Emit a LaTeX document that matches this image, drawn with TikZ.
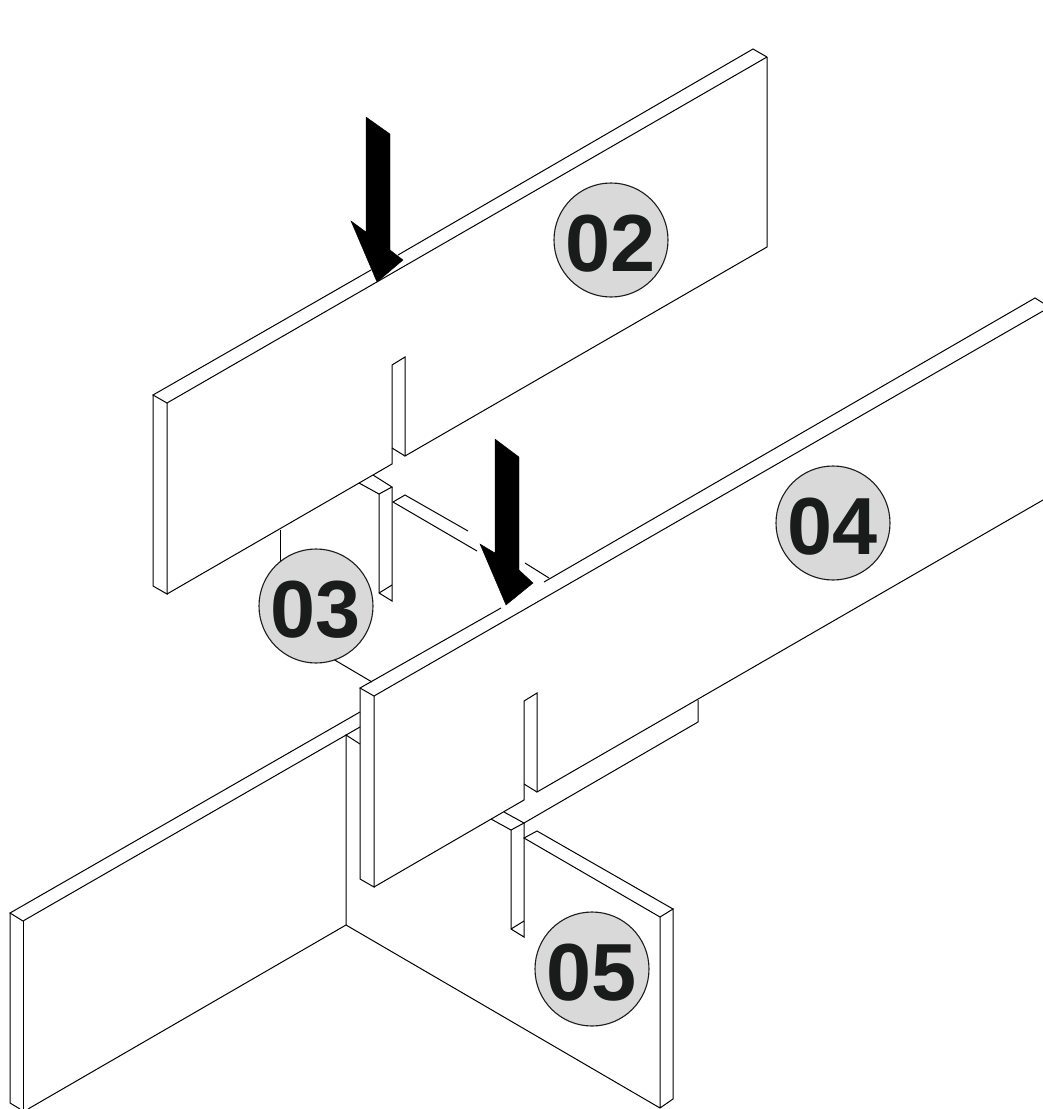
\documentclass[tikz,border=0pt]{standalone}
\usepackage{fontspec}
\setmainfont{Liberation Sans}
\definecolor{badgefill}{HTML}{D9D9D9}
\definecolor{badgeink}{HTML}{1A1C1B}
\newcommand{\badgetext}[1]{\raisebox{0pt}[62pt][0pt]{#1}}
\tikzset{
  edge/.style={draw=black,line width=1pt,line join=miter,line cap=butt},
  pusharrow/.style={fill=black,draw=black,line width=0.4pt,line join=miter},
  badge/.style={circle,draw=badgeink,line width=1.1pt,fill=badgefill,minimum size=114pt,inner sep=0pt,
    text=badgeink,font=\fontsize{81}{81}\selectfont\bfseries}
}
\begin{document}
\begin{tikzpicture}[x=1pt,y=-1pt]
\useasboundingbox (0,0) rectangle (1043,1109);
\fill[white] (0,0) rectangle (1043,1109);
% panel 02
\draw[edge] (371,270) -- (153,395) -- (167,403) -- (767,57);
\draw[edge] (398,255) -- (753,49) -- (767,57);
\draw[edge] (153,395) -- (153,586) -- (167,594) -- (167,403);
\draw[edge] (167,594) -- (392,464) -- (392,365) -- (405,357) -- (405,456) -- (767,247) -- (767,57);
\draw[edge] (392,448) -- (405,456);
% panel 03
\draw[edge] (280,530) -- (280,570);
\draw[edge] (333,659) -- (372,682);
\draw[edge] (359,483) -- (379,494) -- (392,487) -- (373,475);
\draw[edge] (379,494) -- (379,593) -- (392,601) -- (392,487);
\draw[edge] (379,593) -- (392,585);
\draw[edge] (468,531) -- (405,495) -- (393,502) -- (477,551);
\draw[edge] (525,563) -- (549,578);
% panel 04
\draw[edge] (501,608) -- (360,688) -- (374,696) -- (1043,311);
\draw[edge] (544,582) -- (1035,298) -- (1043,303);
\draw[edge] (360,688) -- (360,879) -- (374,887) -- (374,696);
\draw[edge] (374,887) -- (524,800) -- (524,701) -- (537,693) -- (537,792) -- (1043,500);
\draw[edge] (524,784) -- (537,792);
% lower panel, left wing
\draw[edge] (360,712) -- (10,913) -- (23,921) -- (360,727);
\draw[edge] (10,913) -- (10,1103) -- (20,1109);
\draw[edge] (23,921) -- (23,1109);
\draw[edge] (28,1109) -- (346,925) -- (346,735) -- (360,744);
% lower panel, right wing
\draw[edge] (346,925) -- (660,1108) -- (673,1099) -- (673,909) -- (660,917) -- (660,1108);
\draw[edge] (673,909) -- (537,831) -- (524,838) -- (660,917);
% lower panel, slot
\draw[edge] (698,700) -- (698,722) -- (524,823);
\draw[edge] (491,819) -- (511,830) -- (524,823) -- (504,812);
\draw[edge] (511,830) -- (511,929) -- (524,937) -- (524,823);
\draw[edge] (511,929) -- (524,921);
% arrows
\path[pusharrow] (366,117) -- (390,134) -- (390,250) -- (403,260) -- (377,282) -- (351,221) -- (366,232) -- cycle;
\path[pusharrow] (495,439) -- (519,457) -- (519,570) -- (533,583) -- (506,605) -- (480,544) -- (495,553) -- cycle;
% badges
\node[badge] (b02) at (611,240) {\badgetext{02}};
\node[badge] (b03) at (316,606) {\badgetext{03}};
\node[badge] (b04) at (833,523) {\badgetext{04}};
\node[badge] (b05) at (592,969) {\badgetext{05}};
\end{tikzpicture}
\end{document}
